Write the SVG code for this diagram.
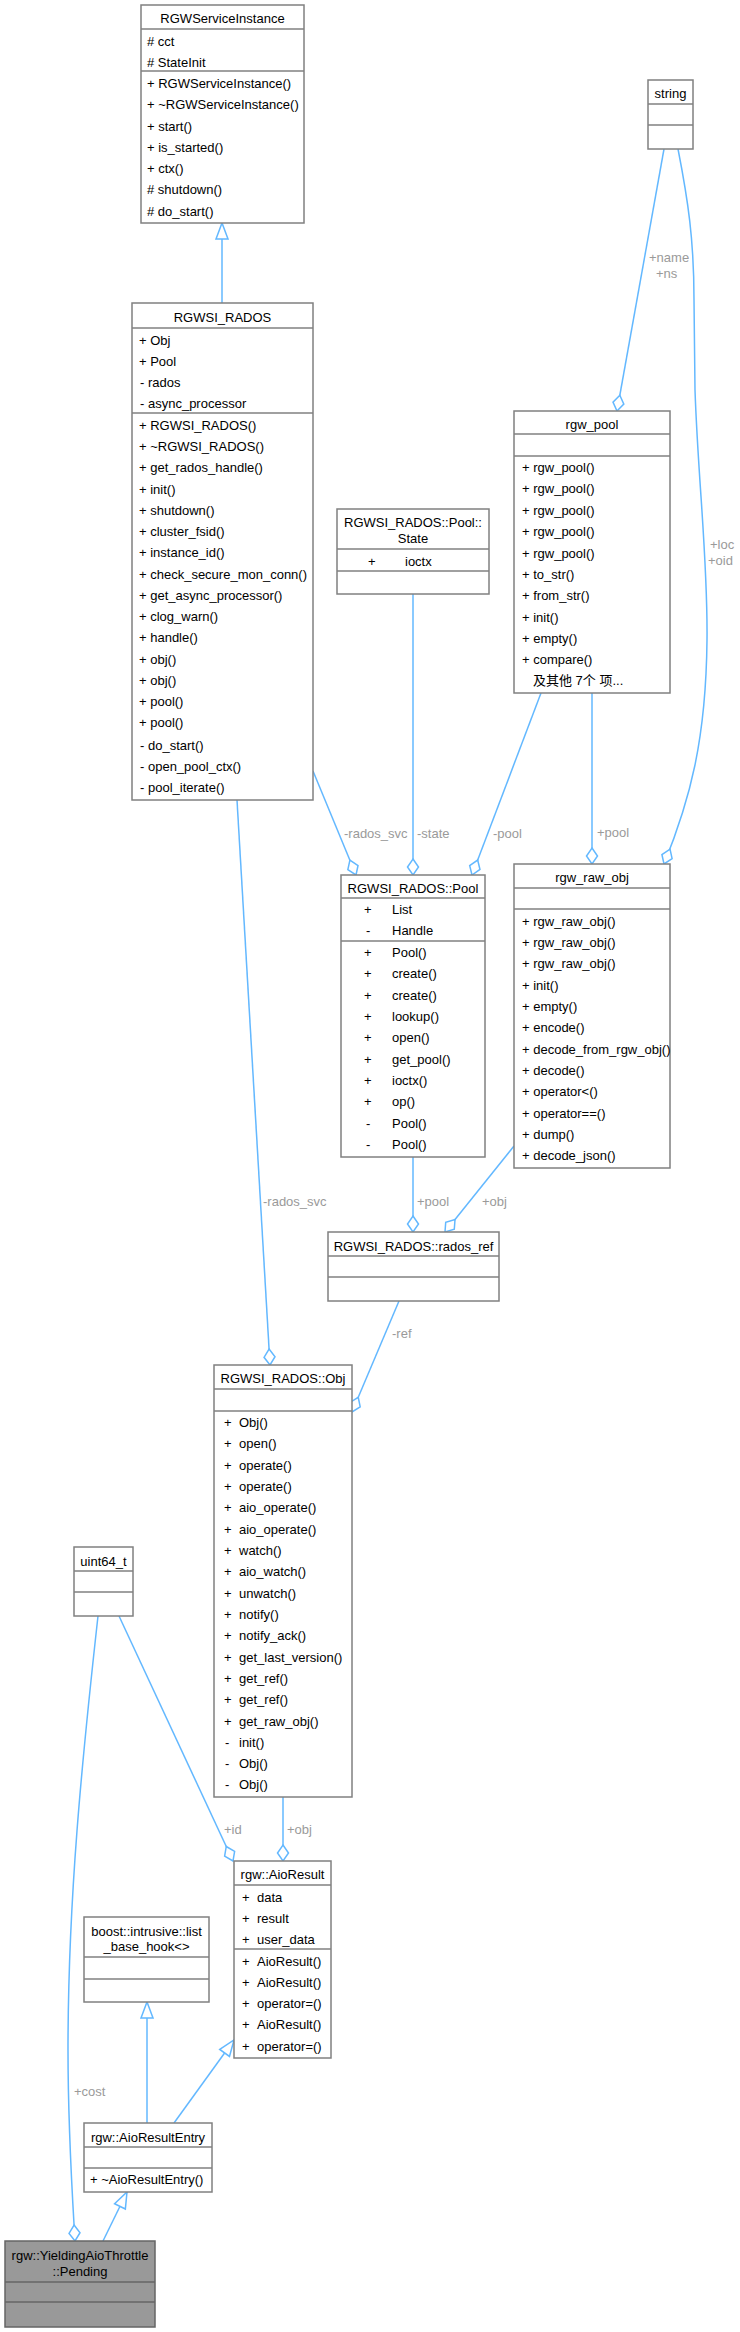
<svg xmlns="http://www.w3.org/2000/svg" width="740" height="2332" viewBox="0 0 740 2332">
<style>
text{font-family:"Liberation Sans","Noto Sans CJK SC",sans-serif;font-size:13px;fill:#000}
.box{fill:#fff;stroke:#808080;stroke-width:1.5}
.sep{stroke:#808080;stroke-width:1.5}
.cur{fill:#999;stroke:#666;stroke-width:1.5}
.t{text-anchor:middle}
.e{fill:none;stroke:#63B8FF;stroke-width:1.5}
.agg{marker-end:url(#dia)}
.inh{marker-end:url(#tri)}
.lbl{fill:#9A9A9A}
</style>
<defs>
<marker id="dia" markerUnits="userSpaceOnUse" markerWidth="20" markerHeight="14" refX="17" refY="6" orient="auto" overflow="visible">
<path d="M1,6 L9,0.5 L17,6 L9,11.5 Z" fill="#fff" stroke="#63B8FF" stroke-width="1.5"/>
</marker>
<marker id="tri" markerUnits="userSpaceOnUse" markerWidth="20" markerHeight="16" refX="17" refY="7" orient="auto" overflow="visible">
<path d="M1,1 L17,7 L1,13 Z" fill="#fff" stroke="#63B8FF" stroke-width="1.5"/>
</marker>
</defs>
<rect width="740" height="2332" fill="#fff"/>

<g id="edges">
<path class="e inh" d="M222,303 L222,223"/>
<path class="e agg" d="M313,771 L356,875"/>
<path class="e agg" d="M413,594 L413,875"/>
<path class="e agg" d="M541,693 L472,875"/>
<path class="e agg" d="M592,693 L592,864"/>
<path class="e agg" d="M664,149 L617,411"/>
<path class="e agg" d="M678,149 C688,200 694,240 694,300 L695,390 C698,480 708,560 707,640 C706,740 690,800 664,864"/>
<path class="e agg" d="M413,1157 L413,1232"/>
<path class="e agg" d="M514,1146 L445,1232"/>
<path class="e agg" d="M237,800 L270,1365"/>
<path class="e agg" d="M399,1301 L352,1412"/>
<path class="e agg" d="M283,1797 L283,1861"/>
<path class="e agg" d="M119,1616 L233,1861"/>
<path class="e agg" d="M98,1616 C82,1760 68,1900 68,2050 C68,2130 72,2190 75,2241"/>
<path class="e inh" d="M147,2123 L147,2002"/>
<path class="e inh" d="M174,2123 L234,2040"/>
<path class="e inh" d="M103,2241 L127,2192"/>
<text class="lbl" x="649" y="262">+name</text>
<text class="lbl" x="656" y="278">+ns</text>
<text class="lbl" x="710" y="549">+loc</text>
<text class="lbl" x="708" y="565">+oid</text>
<text class="lbl" x="344" y="838">-rados_svc</text>
<text class="lbl" x="417" y="838">-state</text>
<text class="lbl" x="493" y="838">-pool</text>
<text class="lbl" x="597" y="837">+pool</text>
<text class="lbl" x="263" y="1206">-rados_svc</text>
<text class="lbl" x="417" y="1206">+pool</text>
<text class="lbl" x="482" y="1206">+obj</text>
<text class="lbl" x="392" y="1338">-ref</text>
<text class="lbl" x="224" y="1834">+id</text>
<text class="lbl" x="287" y="1834">+obj</text>
<text class="lbl" x="74" y="2096">+cost</text>
</g>

<g id="RGWServiceInstance">
<rect class="box" x="141" y="5" width="163" height="218"/>
<line class="sep" x1="141" y1="29" x2="304" y2="29"/>
<line class="sep" x1="141" y1="71" x2="304" y2="71"/>
<text class="t" x="222.5" y="23">RGWServiceInstance</text>
<text x="147" y="46"># cct</text>
<text x="147" y="67"># StateInit</text>
<text x="147" y="88">+ RGWServiceInstance()</text>
<text x="147" y="109">+ ~RGWServiceInstance()</text>
<text x="147" y="131">+ start()</text>
<text x="147" y="152">+ is_started()</text>
<text x="147" y="173">+ ctx()</text>
<text x="147" y="194"># shutdown()</text>
<text x="147" y="216"># do_start()</text>
</g>

<g id="RGWSI_RADOS">
<rect class="box" x="132" y="303" width="181" height="497"/>
<line class="sep" x1="132" y1="328" x2="313" y2="328"/>
<line class="sep" x1="132" y1="413" x2="313" y2="413"/>
<text class="t" x="222.5" y="322">RGWSI_RADOS</text>
<text x="139" y="345">+ Obj</text>
<text x="139" y="366">+ Pool</text>
<text x="140" y="387">-  rados</text>
<text x="140" y="408">-  async_processor</text>
<text x="139" y="430">+ RGWSI_RADOS()</text>
<text x="139" y="451">+ ~RGWSI_RADOS()</text>
<text x="139" y="472">+ get_rados_handle()</text>
<text x="139" y="494">+ init()</text>
<text x="139" y="515">+ shutdown()</text>
<text x="139" y="536">+ cluster_fsid()</text>
<text x="139" y="557">+ instance_id()</text>
<text x="139" y="579">+ check_secure_mon_conn()</text>
<text x="139" y="600">+ get_async_processor()</text>
<text x="139" y="621">+ clog_warn()</text>
<text x="139" y="642">+ handle()</text>
<text x="139" y="664">+ obj()</text>
<text x="139" y="685">+ obj()</text>
<text x="139" y="706">+ pool()</text>
<text x="139" y="727">+ pool()</text>
<text x="140" y="750">-  do_start()</text>
<text x="140" y="771">-  open_pool_ctx()</text>
<text x="140" y="792">-  pool_iterate()</text>
</g>

<g id="string">
<rect class="box" x="648" y="80" width="45" height="69"/>
<line class="sep" x1="648" y1="104" x2="693" y2="104"/>
<line class="sep" x1="648" y1="125" x2="693" y2="125"/>
<text class="t" x="670.5" y="98">string</text>
</g>

<g id="RGWSI_RADOS_Pool_State">
<rect class="box" x="337" y="509" width="152" height="85"/>
<line class="sep" x1="337" y1="549" x2="489" y2="549"/>
<line class="sep" x1="337" y1="571" x2="489" y2="571"/>
<text class="t" x="413" y="527">RGWSI_RADOS::Pool::</text>
<text class="t" x="413" y="543">State</text>
<text x="368" y="566">+</text>
<text x="405" y="566">ioctx</text>
</g>

<g id="rgw_pool">
<rect class="box" x="514" y="411" width="156" height="282"/>
<line class="sep" x1="514" y1="434" x2="670" y2="434"/>
<line class="sep" x1="514" y1="456" x2="670" y2="456"/>
<text class="t" x="592" y="429">rgw_pool</text>
<text x="522" y="472">+ rgw_pool()</text>
<text x="522" y="493">+ rgw_pool()</text>
<text x="522" y="515">+ rgw_pool()</text>
<text x="522" y="536">+ rgw_pool()</text>
<text x="522" y="558">+ rgw_pool()</text>
<text x="522" y="579">+ to_str()</text>
<text x="522" y="600">+ from_str()</text>
<text x="522" y="622">+ init()</text>
<text x="522" y="643">+ empty()</text>
<text x="522" y="664">+ compare()</text>
<text x="533" y="685">及其他 7个 项...</text>
</g>

<g id="RGWSI_RADOS_Pool">
<rect class="box" x="341" y="875" width="144" height="282"/>
<line class="sep" x1="341" y1="898" x2="485" y2="898"/>
<line class="sep" x1="341" y1="941" x2="485" y2="941"/>
<text class="t" x="413" y="893">RGWSI_RADOS::Pool</text>
<text x="364" y="914">+</text><text x="392" y="914">List</text>
<text x="366" y="935">-</text><text x="392" y="935">Handle</text>
<text x="364" y="957">+</text><text x="392" y="957">Pool()</text>
<text x="364" y="978">+</text><text x="392" y="978">create()</text>
<text x="364" y="1000">+</text><text x="392" y="1000">create()</text>
<text x="364" y="1021">+</text><text x="392" y="1021">lookup()</text>
<text x="364" y="1042">+</text><text x="392" y="1042">open()</text>
<text x="364" y="1064">+</text><text x="392" y="1064">get_pool()</text>
<text x="364" y="1085">+</text><text x="392" y="1085">ioctx()</text>
<text x="364" y="1106">+</text><text x="392" y="1106">op()</text>
<text x="366" y="1128">-</text><text x="392" y="1128">Pool()</text>
<text x="366" y="1149">-</text><text x="392" y="1149">Pool()</text>
</g>

<g id="rgw_raw_obj">
<rect class="box" x="514" y="864" width="156" height="304"/>
<line class="sep" x1="514" y1="888" x2="670" y2="888"/>
<line class="sep" x1="514" y1="909" x2="670" y2="909"/>
<text class="t" x="592" y="882">rgw_raw_obj</text>
<text x="522" y="926">+ rgw_raw_obj()</text>
<text x="522" y="947">+ rgw_raw_obj()</text>
<text x="522" y="968">+ rgw_raw_obj()</text>
<text x="522" y="990">+ init()</text>
<text x="522" y="1011">+ empty()</text>
<text x="522" y="1032">+ encode()</text>
<text x="522" y="1054">+ decode_from_rgw_obj()</text>
<text x="522" y="1075">+ decode()</text>
<text x="522" y="1096">+ operator&lt;()</text>
<text x="522" y="1118">+ operator==()</text>
<text x="522" y="1139">+ dump()</text>
<text x="522" y="1160">+ decode_json()</text>
</g>

<g id="RGWSI_RADOS_rados_ref">
<rect class="box" x="328" y="1232" width="171" height="69"/>
<line class="sep" x1="328" y1="1256" x2="499" y2="1256"/>
<line class="sep" x1="328" y1="1277" x2="499" y2="1277"/>
<text class="t" x="413.5" y="1251">RGWSI_RADOS::rados_ref</text>
</g>

<g id="RGWSI_RADOS_Obj">
<rect class="box" x="214" y="1365" width="138" height="432"/>
<line class="sep" x1="214" y1="1389" x2="352" y2="1389"/>
<line class="sep" x1="214" y1="1411" x2="352" y2="1411"/>
<text class="t" x="283" y="1383">RGWSI_RADOS::Obj</text>
<text x="224" y="1427">+</text><text x="239" y="1427">Obj()</text>
<text x="224" y="1448">+</text><text x="239" y="1448">open()</text>
<text x="224" y="1470">+</text><text x="239" y="1470">operate()</text>
<text x="224" y="1491">+</text><text x="239" y="1491">operate()</text>
<text x="224" y="1512">+</text><text x="239" y="1512">aio_operate()</text>
<text x="224" y="1534">+</text><text x="239" y="1534">aio_operate()</text>
<text x="224" y="1555">+</text><text x="239" y="1555">watch()</text>
<text x="224" y="1576">+</text><text x="239" y="1576">aio_watch()</text>
<text x="224" y="1598">+</text><text x="239" y="1598">unwatch()</text>
<text x="224" y="1619">+</text><text x="239" y="1619">notify()</text>
<text x="224" y="1640">+</text><text x="239" y="1640">notify_ack()</text>
<text x="224" y="1662">+</text><text x="239" y="1662">get_last_version()</text>
<text x="224" y="1683">+</text><text x="239" y="1683">get_ref()</text>
<text x="224" y="1704">+</text><text x="239" y="1704">get_ref()</text>
<text x="224" y="1726">+</text><text x="239" y="1726">get_raw_obj()</text>
<text x="225" y="1747">-</text><text x="239" y="1747">init()</text>
<text x="225" y="1768">-</text><text x="239" y="1768">Obj()</text>
<text x="225" y="1789">-</text><text x="239" y="1789">Obj()</text>
</g>

<g id="uint64_t">
<rect class="box" x="74" y="1547" width="59" height="69"/>
<line class="sep" x1="74" y1="1571" x2="133" y2="1571"/>
<line class="sep" x1="74" y1="1592" x2="133" y2="1592"/>
<text class="t" x="103.5" y="1566">uint64_t</text>
</g>

<g id="rgw_AioResult">
<rect class="box" x="234" y="1861" width="97" height="197"/>
<line class="sep" x1="234" y1="1885" x2="331" y2="1885"/>
<line class="sep" x1="234" y1="1949" x2="331" y2="1949"/>
<text class="t" x="282.5" y="1879">rgw::AioResult</text>
<text x="242" y="1902">+</text><text x="257" y="1902">data</text>
<text x="242" y="1923">+</text><text x="257" y="1923">result</text>
<text x="242" y="1944">+</text><text x="257" y="1944">user_data</text>
<text x="242" y="1966">+</text><text x="257" y="1966">AioResult()</text>
<text x="242" y="1987">+</text><text x="257" y="1987">AioResult()</text>
<text x="242" y="2008">+</text><text x="257" y="2008">operator=()</text>
<text x="242" y="2029">+</text><text x="257" y="2029">AioResult()</text>
<text x="242" y="2051">+</text><text x="257" y="2051">operator=()</text>
</g>

<g id="boost_intrusive_list_base_hook">
<rect class="box" x="84" y="1917" width="125" height="85"/>
<line class="sep" x1="84" y1="1957" x2="209" y2="1957"/>
<line class="sep" x1="84" y1="1979" x2="209" y2="1979"/>
<text class="t" x="146.5" y="1936">boost::intrusive::list</text>
<text class="t" x="146.5" y="1951">_base_hook&lt;&gt;</text>
</g>

<g id="rgw_AioResultEntry">
<rect class="box" x="84" y="2123" width="128" height="69"/>
<line class="sep" x1="84" y1="2147" x2="212" y2="2147"/>
<line class="sep" x1="84" y1="2168" x2="212" y2="2168"/>
<text class="t" x="148" y="2142">rgw::AioResultEntry</text>
<text x="90" y="2184">+ ~AioResultEntry()</text>
</g>

<g id="rgw_YieldingAioThrottle_Pending">
<rect class="cur" x="5" y="2241" width="150" height="86"/>
<line x1="5" y1="2282" x2="155" y2="2282" stroke="#666" stroke-width="1.5"/>
<line x1="5" y1="2302" x2="155" y2="2302" stroke="#666" stroke-width="1.5"/>
<text class="t" x="80" y="2260">rgw::YieldingAioThrottle</text>
<text class="t" x="80" y="2276">::Pending</text>
</g>
</svg>
